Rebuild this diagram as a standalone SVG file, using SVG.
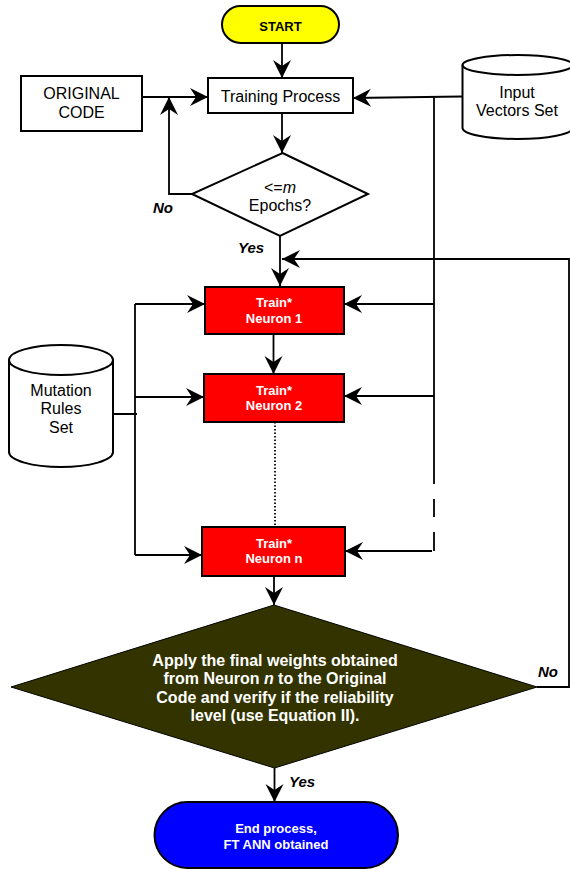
<svg xmlns="http://www.w3.org/2000/svg" width="570" height="869" viewBox="0 0 570 869">
<style>
.box{fill:#fff;stroke:#000;stroke-width:2}
.neu{fill:#ff0000;stroke:#000;stroke-width:2}
.ln{fill:none;stroke:#000;stroke-width:1.8}
.t{font-family:"Liberation Sans",Arial,sans-serif;font-size:16px;fill:#000;text-anchor:middle}
.tb{font-family:"Liberation Sans",Arial,sans-serif;font-size:13px;font-weight:bold;fill:#fff;text-anchor:middle}
.tbig{font-family:"Liberation Sans",Arial,sans-serif;font-size:16px;font-weight:bold;fill:#fff;text-anchor:middle}
.lbl{font-family:"Liberation Sans",Arial,sans-serif;font-size:15px;font-weight:bold;font-style:italic;fill:#000}
</style>
<defs>
<marker id="ah" markerWidth="20" markerHeight="20" viewBox="-20 -10 20 20" refX="0" refY="0" orient="auto" markerUnits="userSpaceOnUse">
<path d="M0,0 L-18,-9 L-12,0 L-18,9 Z" fill="#000"/>
</marker>
</defs>
<rect width="570" height="869" fill="#fff"/>
<g id="connectors">
<path class="ln" d="M282,43 V78" marker-end="url(#ah)"/>
<path class="ln" d="M142,97 H208" marker-end="url(#ah)"/>
<path class="ln" d="M192,194 H169 V97" marker-end="url(#ah)"/>
<path class="ln" d="M282,113 V153" marker-end="url(#ah)"/>
<path class="ln" d="M462,96.5 L353,98" marker-end="url(#ah)"/>
<path class="ln" d="M434,96.5 V484 M434,499 V517 M434,532 V551"/>
<path class="ln" d="M280,236 V286" marker-end="url(#ah)"/>
<path class="ln" d="M537,687 H569 V259 H282" marker-end="url(#ah)"/>
<path class="ln" d="M434,304 H344" marker-end="url(#ah)"/>
<path class="ln" d="M434,396 H344" marker-end="url(#ah)"/>
<path class="ln" d="M432,551 H345" marker-end="url(#ah)"/>
<path class="ln" d="M273.5,334 V374" marker-end="url(#ah)"/>
<path class="ln" d="M275,422 V527" stroke-dasharray="1.5,2"/>
<path class="ln" d="M274,576 V605" marker-end="url(#ah)"/>
<path class="ln" d="M113,414 H137 M135,304 V555"/>
<path class="ln" d="M135,304 H205" marker-end="url(#ah)"/>
<path class="ln" d="M135,397 H204" marker-end="url(#ah)"/>
<path class="ln" d="M135,555 H202" marker-end="url(#ah)"/>
<path class="ln" d="M274.5,768 V802" marker-end="url(#ah)"/>
</g>
<g id="start">
<rect x="222" y="6" width="117" height="37" rx="18.5" fill="#ffff00" stroke="#000" stroke-width="2"/>
<text x="280.5" y="31" style="font-family:'Liberation Sans',Arial,sans-serif;font-size:13px;font-weight:bold;text-anchor:middle">START</text>
</g>
<g id="original-code">
<rect class="box" x="21" y="76" width="121" height="55"/>
<text class="t" x="81.5" y="99">ORIGINAL</text>
<text class="t" x="81.5" y="118">CODE</text>
</g>
<g id="training-process">
<rect class="box" x="208" y="78" width="145" height="35"/>
<text class="t" x="280.5" y="102">Training Process</text>
</g>
<g id="input-vectors">
<path d="M462.5,65 V128 A55,11 0 0 0 572.5,128 V65 A55,10 0 0 0 462.5,65 Z" fill="#fff" stroke="#000" stroke-width="2"/>
<path d="M462.5,65 A55,10 0 0 0 572.5,65" fill="none" stroke="#000" stroke-width="2"/>
<text class="t" x="517" y="98">Input</text>
<text class="t" x="517" y="116">Vectors Set</text>
</g>
<g id="epochs">
<polygon points="282.5,153 368,194 280,236 192,194" fill="#fff" stroke="#000" stroke-width="2"/>
<text class="t" x="280" y="193">&lt;=<tspan font-style="italic">m</tspan></text>
<text class="t" x="280" y="211">Epochs?</text>
</g>
<text class="lbl" x="153" y="213">No</text>
<text class="lbl" x="238" y="253">Yes</text>
<g id="mutation-rules">
<path d="M9,360 V452 A52,15 0 0 0 113,452 V360 A52,15 0 0 0 9,360 Z" fill="#fff" stroke="#000" stroke-width="2"/>
<path d="M9,360 A52,15 0 0 0 113,360" fill="none" stroke="#000" stroke-width="2"/>
<text class="t" x="61" y="396">Mutation</text>
<text class="t" x="61" y="414">Rules</text>
<text class="t" x="61" y="433">Set</text>
</g>
<g id="neuron1">
<rect class="neu" x="205" y="287" width="139" height="47"/>
<text class="tb" x="274" y="307">Train*</text>
<text class="tb" x="274" y="323">Neuron 1</text>
</g>
<g id="neuron2">
<rect class="neu" x="204" y="374" width="140" height="48"/>
<text class="tb" x="274" y="395">Train*</text>
<text class="tb" x="274" y="410">Neuron 2</text>
</g>
<g id="neuronn">
<rect class="neu" x="202" y="527" width="143" height="49"/>
<text class="tb" x="274" y="548">Train*</text>
<text class="tb" x="274" y="563">Neuron n</text>
</g>
<g id="verify">
<polygon points="274,605 537,687 274.5,768 11,687" fill="#333300" stroke="#000" stroke-width="1"/>
<text class="tbig" x="275" y="666">Apply the final weights obtained</text>
<text class="tbig" x="275" y="684">from Neuron <tspan font-style="italic">n</tspan> to the Original</text>
<text class="tbig" x="275" y="703">Code and verify if the reliability</text>
<text class="tbig" x="275" y="721">level (use Equation II).</text>
</g>
<text class="lbl" x="538" y="677">No</text>
<text class="lbl" x="289" y="787">Yes</text>
<g id="end">
<rect x="154.5" y="802" width="243.5" height="66" rx="33" fill="#0000ff" stroke="#000" stroke-width="2"/>
<text class="tb" x="276" y="833">End process,</text>
<text class="tb" x="276" y="849">FT ANN obtained</text>
</g>
</svg>
